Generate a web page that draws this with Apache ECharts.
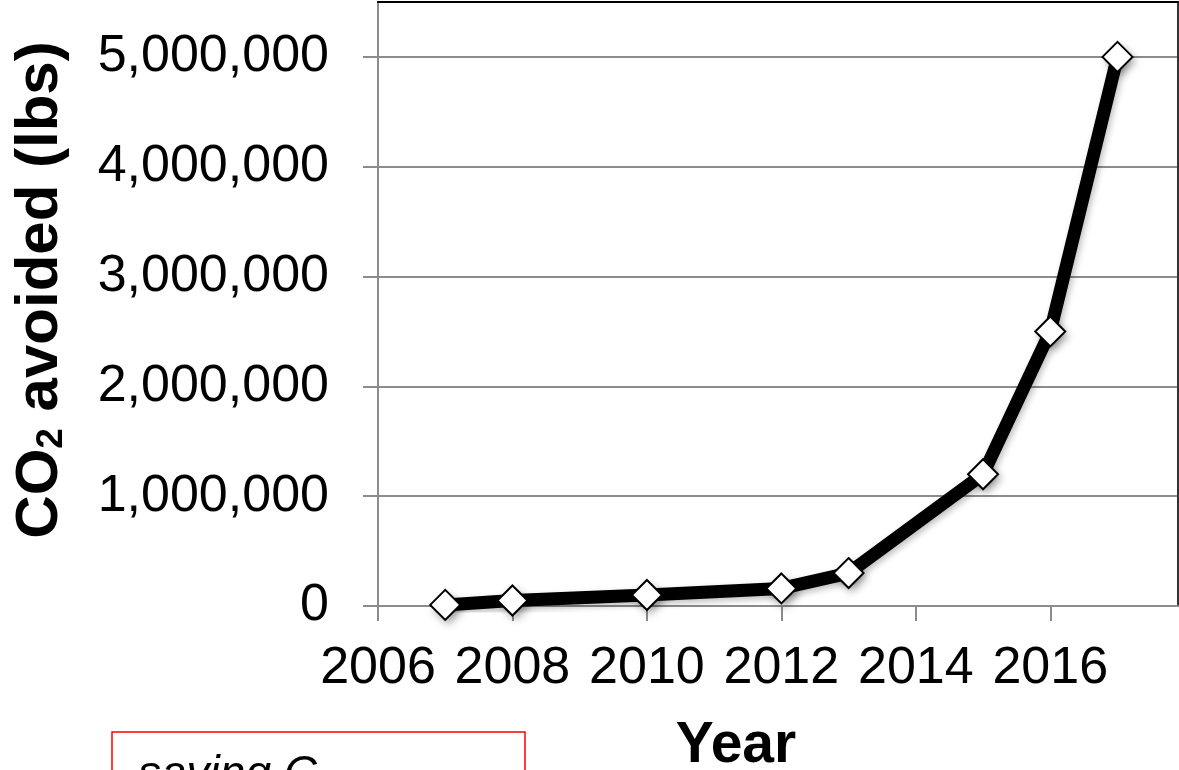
<!DOCTYPE html>
<html>
<head>
<meta charset="utf-8">
<script src="https://cdn.jsdelivr.net/npm/echarts@6/dist/echarts.min.js"></script>
<style>
  html, body { margin: 0; padding: 0; background: #fff; }
  #chart { width: 1179px; height: 770px; }
</style>
</head>
<body>
<div id="chart"></div>
<script>
// Cumulative CO2 avoided per year
const years = [2007, 2008, 2010, 2012, 2013, 2015, 2016, 2017];
const co2Avoided = [10000, 50000, 100000, 160000, 300000, 1200000, 2500000, 5000000];

// Axis tick values
const yearTicks = [2006, 2008, 2010, 2012, 2014, 2016];
const valueTicks = [0, 1000000, 2000000, 3000000, 4000000, 5000000];

const FONT = '"Liberation Sans", Arial, Helvetica, sans-serif';

const points = years.map((y, i) => [y, co2Avoided[i]]);

const chart = echarts.init(document.getElementById('chart'), null, { renderer: 'canvas' });

const option = {
  backgroundColor: '#ffffff',
  animation: false,
  grid: {
    left: 378, right: 1, top: 2, bottom: 164,
    containLabel: false,
    outerBoundsMode: 'none'
  },
  xAxis: [
    {
      type: 'value',
      min: 2006,
      max: 2017.9,
      interval: 2,
      axisLine: { show: true, onZero: false, lineStyle: { color: '#8c8c8c', width: 2 } },
      axisTick: { show: true, length: 15, customValues: yearTicks, lineStyle: { color: '#8c8c8c', width: 2 } },
      axisLabel: {
        customValues: yearTicks,
        margin: 37,
        color: '#000',
        fontFamily: FONT,
        fontSize: 52,
        formatter: v => String(v)
      },
      splitLine: { show: false }
    },
    {
      type: 'value',
      position: 'top',
      min: 2006,
      max: 2017.9,
      axisLine: { show: true, onZero: false, lineStyle: { color: '#000', width: 2 } },
      axisTick: { show: false },
      axisLabel: { show: false },
      splitLine: { show: false }
    }
  ],
  yAxis: [
    {
      type: 'value',
      min: 0,
      max: 5500000,
      interval: 1000000,
      axisLine: { show: true, onZero: false, lineStyle: { color: '#8c8c8c', width: 2 } },
      axisTick: { show: true, length: 15, customValues: valueTicks, lineStyle: { color: '#8c8c8c', width: 2 } },
      axisLabel: {
        customValues: valueTicks,
        margin: 49,
        color: '#000',
        fontFamily: FONT,
        fontSize: 52,
        formatter: v => v.toLocaleString('en-US')
      },
      splitLine: { show: true, lineStyle: { color: '#8c8c8c', width: 2 } }
    },
    {
      type: 'value',
      position: 'right',
      min: 0,
      max: 5500000,
      axisLine: { show: true, onZero: false, lineStyle: { color: '#333', width: 2 } },
      axisTick: { show: false },
      axisLabel: { show: false },
      splitLine: { show: false }
    }
  ],
  series: [
    // soft drop shadow cast by the diamond markers
    {
      type: 'scatter',
      data: points,
      symbol: 'diamond',
      symbolSize: [30, 30],
      silent: true,
      itemStyle: {
        color: '#ffffff',
        shadowColor: 'rgba(0,0,0,0.5)',
        shadowBlur: 9,
        shadowOffsetX: 3,
        shadowOffsetY: 4
      },
      emphasis: { disabled: true },
      z: 2
    },
    {
      type: 'line',
      data: points,
      symbol: 'diamond',
      symbolSize: [30, 30],
      showAllSymbol: true,
      lineStyle: {
        color: '#000',
        width: 13,
        shadowColor: 'rgba(0,0,0,0.25)',
        shadowBlur: 6,
        shadowOffsetX: 2,
        shadowOffsetY: 3
      },
      itemStyle: {
        color: '#ffffff',
        opacity: 1,
        borderColor: '#000',
        borderWidth: 2
      },
      emphasis: { disabled: true },
      z: 3
    }
  ],
  graphic: [
    {
      type: 'text',
      x: 40,
      y: 290,
      rotation: Math.PI / 2,
      style: {
        text: '{b|CO}{s|2}{b| avoided (lbs)}',
        align: 'center',
        verticalAlign: 'middle',
        rich: {
          b: { fontFamily: FONT, fontWeight: 'bold', fontSize: 60, fill: '#000' },
          s: { fontFamily: FONT, fontWeight: 'bold', fontSize: 37, fill: '#000', verticalAlign: 'bottom' }
        }
      }
    },
    {
      type: 'text',
      x: 736,
      y: 746,
      style: {
        text: 'Year',
        fontFamily: FONT,
        fontWeight: 'bold',
        fontSize: 57,
        fill: '#000',
        align: 'center',
        verticalAlign: 'middle'
      }
    },
    {
      type: 'rect',
      shape: { x: 112, y: 732, width: 413, height: 80 },
      style: { fill: '#fff', stroke: '#ff0000', lineWidth: 1.5 }
    },
    {
      type: 'text',
      x: 138,
      y: 752,
      style: {
        text: 'saving C',
        fontFamily: FONT,
        fontStyle: 'italic',
        fontSize: 46,
        fill: '#000',
        align: 'left',
        verticalAlign: 'top'
      }
    }
  ]
};

chart.setOption(option);
</script>
</body>
</html>
